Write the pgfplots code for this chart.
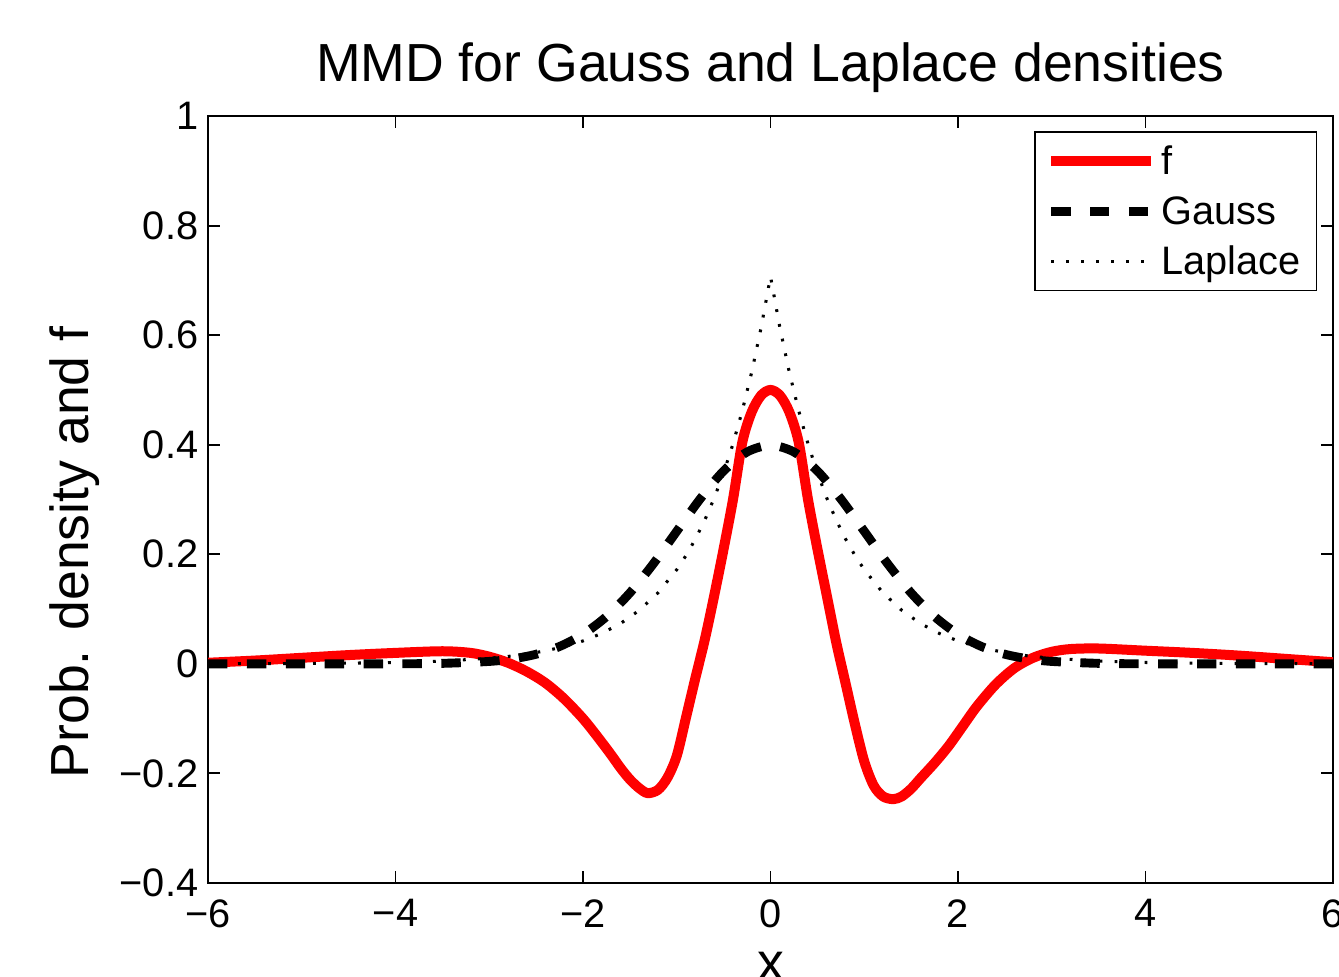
\documentclass[border=0pt]{standalone}
\usepackage{fontspec}
\setmainfont{Liberation Sans}
\usepackage{pgfplots}
\pgfplotsset{compat=1.18}

% witness function f
\pgfplotstableread{
x y
-6 0.002
-5.5 0.006
-5 0.011
-4.5 0.016
-4 0.020
-3.5 0.023
-3.2 0.020
-3.0 0.013
-2.8 0.002
-2.6 -0.014
-2.4 -0.035
-2.2 -0.064
-2.0 -0.100
-1.85 -0.132
-1.7 -0.166
-1.6 -0.190
-1.5 -0.211
-1.4 -0.227
-1.31 -0.236
-1.2 -0.230
-1.1 -0.208
-1.0 -0.168
-0.9 -0.097
-0.8 -0.025
-0.7 0.045
-0.6 0.125
-0.5 0.210
-0.4 0.300
-0.3 0.405
-0.2 0.460
-0.1 0.490
0 0.500
0.1 0.490
0.2 0.460
0.3 0.405
0.4 0.300
0.5 0.210
0.6 0.125
0.7 0.040
0.8 -0.035
0.9 -0.110
1.0 -0.178
1.1 -0.222
1.2 -0.242
1.31 -0.247
1.4 -0.242
1.5 -0.228
1.6 -0.209
1.75 -0.181
1.9 -0.150
2.05 -0.114
2.2 -0.078
2.4 -0.038
2.6 -0.008
2.8 0.011
3.0 0.022
3.2 0.027
3.5 0.028
4.0 0.024
4.5 0.020
5.0 0.015
5.5 0.009
6.0 0.003
}\ftable

\pgfplotstableread{
x y
-6 0
-5 0
-4 0.0001
-3.5 0.0009
-3 0.0044
-2.75 0.0091
-2.5 0.0175
-2.25 0.0317
-2 0.0540
-1.75 0.0863
-1.5 0.1295
-1.25 0.1826
-1 0.2420
-0.75 0.3011
-0.5 0.3521
-0.25 0.3867
0 0.3989
0.25 0.3867
0.5 0.3521
0.75 0.3011
1 0.2420
1.25 0.1826
1.5 0.1295
1.75 0.0863
2 0.0540
2.25 0.0317
2.5 0.0175
2.75 0.0091
3 0.0044
3.5 0.0009
4 0.0001
5 0
6 0
}\gausstable

\pgfplotstableread{
x y
-6 0.0001
-5 0.0006
-4.5 0.0012
-4 0.0025
-3.5 0.0050
-3 0.0102
-2.75 0.0144
-2.5 0.0206
-2.25 0.0293
-2 0.0418
-1.8 0.0555
-1.6 0.0736
-1.4 0.0977
-1.2 0.1296
-1 0.1719
-0.9 0.1981
-0.8 0.2281
-0.7 0.2628
-0.6 0.3027
-0.5 0.3487
-0.4 0.4016
-0.3 0.4626
-0.2 0.5329
-0.1 0.6138
0 0.7071
0.1 0.6138
0.2 0.5329
0.3 0.4626
0.4 0.4016
0.5 0.3487
0.6 0.3027
0.7 0.2628
0.8 0.2281
0.9 0.1981
1 0.1719
1.2 0.1296
1.4 0.0977
1.6 0.0736
1.8 0.0555
2 0.0418
2.25 0.0293
2.5 0.0206
2.75 0.0144
3 0.0102
3.5 0.0050
4 0.0025
4.5 0.0012
5 0.0006
6 0.0001
}\laplacetable

\begin{document}
\begin{tikzpicture}
\begin{axis}[
    name=ax,
    scale only axis,
    width=405pt,
    height=276.1pt,
    xmin=-6, xmax=6,
    ymin=-0.4, ymax=1,
    xtick={-6,-4,-2,0,2,4,6},
    xticklabels={−6,−4,−2,0,2,4,6},
    ytick={-0.4,-0.2,0,0.2,0.4,0.6,0.8,1},
    yticklabels={−0.4,−0.2,0,0.2,0.4,0.6,0.8,1},
    tick align=inside,
    major tick length=4.3pt,
    axis line style={line width=0.7pt},
    every tick/.style={black, line width=0.7pt},
    ticklabel style={font=\fontsize{14.3}{17}\selectfont},
    xticklabel style={yshift=-2.4pt},
    title={MMD for Gauss and Laplace densities},
    title style={at={(rel axis cs:0.5,1)}, anchor=base, yshift=6.4pt,
        font=\fontsize{19.3}{23}\selectfont},
    xlabel={x},
    xlabel style={at={(rel axis cs:0.5,0)}, anchor=base, yshift=-35pt,
        font=\fontsize{19.3}{23}\selectfont},
    ylabel={Prob. density and f},
    ylabel style={at={(rel axis cs:-0.1183,0.431)},
        anchor=center, font=\fontsize{19.3}{23}\selectfont},
    legend image code/.code={\draw[#1] (0pt,0pt) -- (36pt,0pt);},
    legend cell align=left,
    legend style={at={(rel axis cs:0.986,0.98)}, anchor=north east,
        font=\fontsize{14.3}{17}\selectfont, draw=black, line width=0.6pt,
        inner xsep=4pt, inner ysep=1.5pt,
        nodes={inner xsep=1.8pt, inner ysep=1.75pt, text height=12pt, text depth=2.5pt}},
]
\addplot[red, line width=3.6pt, smooth] table {\ftable};
\addlegendentry{f}
\addplot[black, line width=3.2pt, dash pattern=on 7pt off 7pt, smooth] table {\gausstable};
\addlegendentry{Gauss}
\addplot[black, line width=1.1pt, dash pattern=on 1pt off 4.4pt] table {\laplacetable};
\addlegendentry{Laplace}
\end{axis}
\pgfresetboundingbox
\path[use as bounding box] ([xshift=-74.88pt,yshift=-33.84pt]ax.south west)
    rectangle ([xshift=2.16pt,yshift=41.76pt]ax.north east);
\end{tikzpicture}
\end{document}
